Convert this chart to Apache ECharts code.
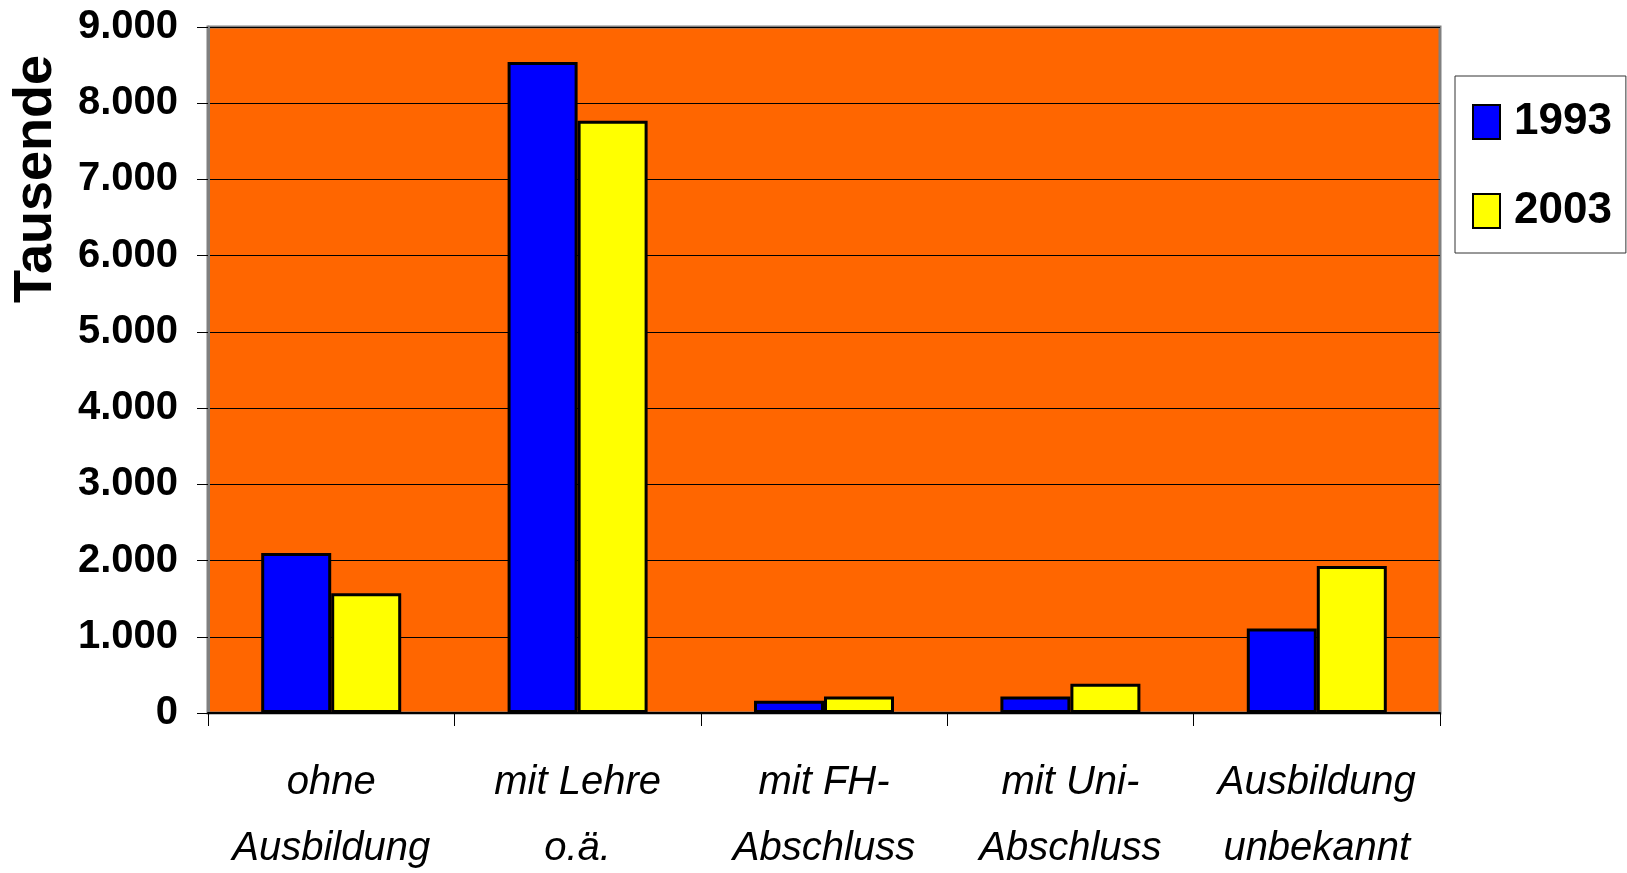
<!DOCTYPE html>
<html>
<head>
<meta charset="utf-8">
<script src="https://cdn.jsdelivr.net/npm/echarts@6/dist/echarts.min.js"></script>
<style>
  html, body { margin: 0; padding: 0; background: #ffffff; }
  #chart { width: 1627px; height: 873px; }
</style>
</head>
<body>
<div id="chart"></div>
<script>
// ---- data ----
const categories = [
  "ohne\nAusbildung",
  "mit Lehre\no.ä.",
  "mit FH-\nAbschluss",
  "mit Uni-\nAbschluss",
  "Ausbildung\nunbekannt"
];
const seriesNames = ["1993", "2003"];
const values1993 = [2100, 8540, 160, 215, 1110];
const values2003 = [1570, 7770, 215, 385, 1930];
const yAxisTitle = "Tausende";
const yMin = 0, yMax = 9000, yStep = 1000;

// ---- chart ----
const FONT = "'Liberation Sans', Arial, Helvetica, sans-serif";
const chart = echarts.init(document.getElementById('chart'), null, { renderer: 'canvas' });

function fmt(v) {
  return String(v).replace(/\B(?=(\d{3})+(?!\d))/g, '.');
}

chart.setOption({
  backgroundColor: '#ffffff',
  animation: false,
  grid: {
    left: 208, top: 27, width: 1232, height: 686,
    containLabel: false,
    outerBoundsMode: 'none',
    show: true,
    backgroundColor: '#FF6600',
    borderColor: '#808080',
    borderWidth: 3
  },
  legend: {
    orient: 'vertical',
    left: 1455, top: 76,
    width: 169,
    padding: [24, 14, 20, 17],
    itemGap: 45,
    itemWidth: 27, itemHeight: 34,
    backgroundColor: '#ffffff',
    borderColor: '#333333',
    borderWidth: 1,
    borderRadius: 0,
    icon: 'rect',
    textStyle: {
      fontFamily: FONT, fontWeight: 'bold', fontSize: 44, color: '#000',
      lineHeight: 44, padding: [0, 0, 0, 9]
    },
    data: seriesNames
  },
  xAxis: {
    type: 'category',
    data: categories,
    axisLine: { show: true, lineStyle: { color: '#000', width: 2 } },
    axisTick: { show: true, length: 13, lineStyle: { color: '#000', width: 1 } },
    axisLabel: {
      fontFamily: FONT, fontStyle: 'italic', fontSize: 40, color: '#000',
      lineHeight: 66, margin: 37, interval: 0
    },
    splitLine: { show: false }
  },
  yAxis: {
    type: 'value',
    min: yMin, max: yMax, interval: yStep,
    axisLine: { show: true, lineStyle: { color: '#808080', width: 3 } },
    axisTick: { show: true, length: 11, lineStyle: { color: '#000', width: 1 } },
    axisLabel: {
      fontFamily: FONT, fontWeight: 'bold', fontSize: 40, color: '#000',
      margin: 30, formatter: fmt
    },
    splitLine: { show: true, lineStyle: { color: '#000', width: 1 } }
  },
  graphic: [{
    type: 'text',
    x: 36, y: 179,
    rotation: Math.PI / 2,
    style: {
      text: yAxisTitle,
      font: "bold 54px " + FONT,
      fill: '#000',
      align: 'center',
      verticalAlign: 'middle'
    }
  }],
  series: [
    {
      name: seriesNames[0], type: 'bar', data: values1993,
      barWidth: 70, barGap: '0%',
      itemStyle: { color: '#0000FF', borderColor: '#000', borderWidth: 3 }
    },
    {
      name: seriesNames[1], type: 'bar', data: values2003,
      barWidth: 70, barGap: '0%',
      itemStyle: { color: '#FFFF00', borderColor: '#000', borderWidth: 3 }
    }
  ]
});
</script>
</body>
</html>
